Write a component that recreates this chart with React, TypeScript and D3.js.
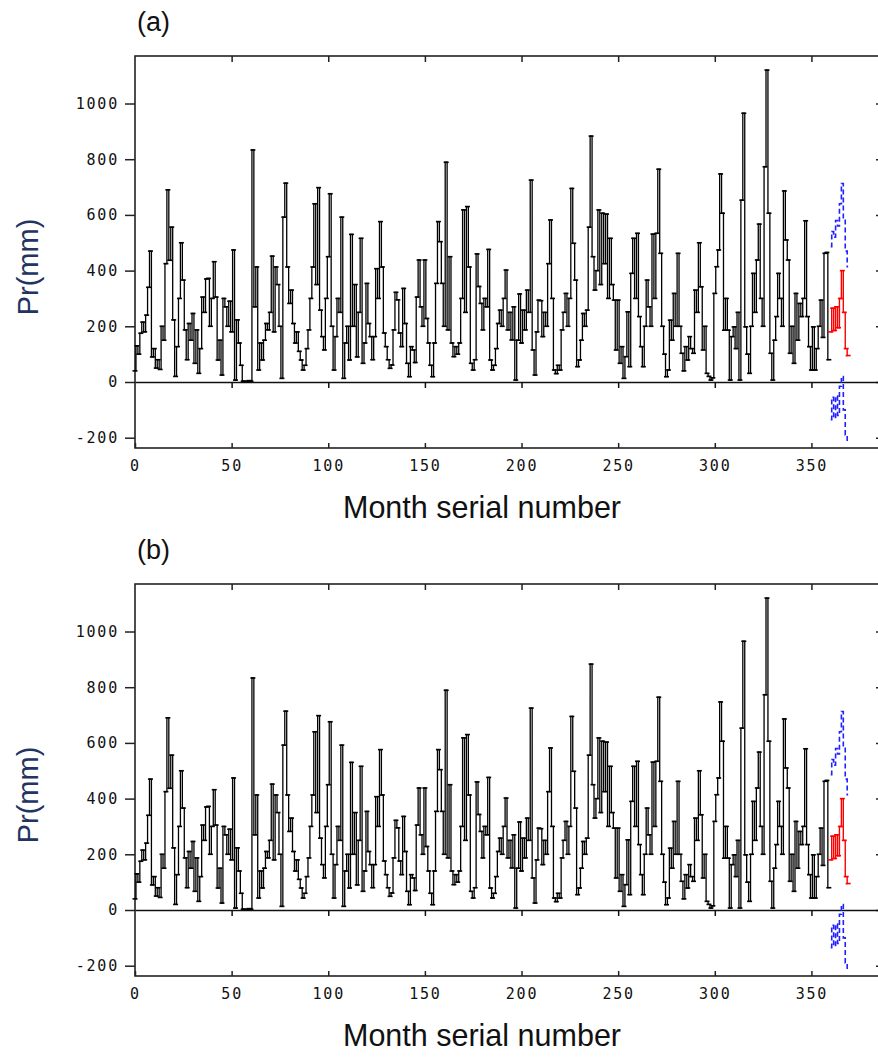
import React, { useEffect, useRef } from 'react';
import * as d3 from 'd3';

// monthly precipitation, months 0..359
const precip = [
  40, 130, 100, 175, 215, 180, 240, 340, 470, 90, 120, 50,
  80, 45, 200, 150, 425, 690, 437, 556, 223, 20, 127, 300,
  500, 366, 187, 80, 210, 150, 246, 67, 187, 31, 120, 305,
  250, 370, 372, 200, 300, 432, 305, 79, 150, 25, 300, 270,
  200, 290, 180, 474, 7, 223, 140, 60, 3, 2, 2, 5,
  3, 833, 270, 413, 43, 140, 79, 150, 210, 187, 250, 452,
  180, 413, 350, 200, 13, 592, 714, 413, 282, 330, 210, 140,
  180, 110, 79, 43, 60, 120, 187, 300, 413, 640, 350, 698,
  258, 163, 115, 300, 450, 676, 200, 43, 163, 300, 250, 592,
  13, 140, 200, 79, 530, 200, 350, 90, 250, 516, 67, 140,
  354, 210, 163, 80, 163, 407, 300, 576, 413, 176, 127, 80,
  49, 61, 187, 322, 295, 176, 127, 336, 210, 67, 19, 127,
  115, 70, 305, 438, 270, 200, 438, 228, 140, 60, 19, 140,
  354, 576, 504, 354, 200, 789, 187, 450, 140, 91, 127, 100,
  140, 300, 618, 250, 630, 413, 67, 43, 80, 460, 343, 282,
  187, 300, 270, 476, 79, 43, 60, 120, 210, 258, 200, 300,
  402, 187, 250, 151, 270, 7, 150, 316, 140, 258, 187, 330,
  250, 725, 115, 25, 180, 294, 292, 163, 250, 200, 425, 582,
  300, 43, 30, 60, 43, 187, 250, 318, 200, 300, 695, 498,
  366, 55, 79, 150, 246, 200, 258, 556, 883, 450, 330, 400,
  618, 350, 606, 425, 603, 300, 516, 350, 294, 115, 294, 67,
  127, 13, 91, 252, 55, 390, 516, 300, 534, 235, 127, 55,
  200, 366, 270, 200, 531, 300, 534, 764, 462, 200, 100, 19,
  43, 222, 150, 318, 200, 462, 200, 103, 40, 127, 79, 163,
  120, 103, 330, 250, 500, 342, 115, 200, 31, 20, 7, 15,
  318, 414, 474, 747, 606, 186, 300, 186, 7, 163, 198, 120,
  250, 7, 653, 965, 198, 100, 31, 200, 390, 250, 438, 567,
  300, 200, 773, 1120, 606, 103, 7, 150, 235, 390, 300, 200,
  686, 510, 438, 103, 200, 67, 318, 150, 282, 235, 300, 579,
  235, 127, 43, 198, 43, 120, 200, 294, 160, 462, 465, 80,
];

// forecast months 360..369 and its bounds
const forecastStart = 360;
const forecast = [180, 265, 185, 270, 195, 300, 400, 250, 120, 95];
const upperBound = [486, 540, 520, 580, 560, 640, 713, 590, 470, 414];
const lowerBound = [-135, -55, -130, -50, -120, -15, 20, -100, -190, -215];

const xTicks = [0, 50, 100, 150, 200, 250, 300, 350];
const yTicks = [-200, 0, 200, 400, 600, 800, 1000];
const panelLabels = ['(a)', '(b)'];

const App = () => {
  const svgRef = useRef<SVGSVGElement>(null);

  useEffect(() => {
    const svg = d3.select(svgRef.current);
    svg.selectAll('*').remove();

    const left = 135, right = 881, top = 56, bottom = 448;
    const x = d3.scaleLinear().domain([0, 386]).range([left, right]);
    const y = d3.scaleLinear().domain([-237, 1170.6]).range([bottom, top]);

    const tickFont = (g) => g
      .attr('font-family', '"DejaVu Sans Mono", monospace')
      .attr('font-size', 15)
      .attr('letter-spacing', 1.8);

    panelLabels.forEach((label, p) => {
      const g = svg.append('g').attr('transform', `translate(0,${p * 528})`);

      // frame
      g.append('rect')
        .attr('x', left).attr('y', top)
        .attr('width', right - left).attr('height', bottom - top)
        .attr('fill', 'none').attr('stroke', '#222').attr('stroke-width', 1.6);

      // left axis with labels
      const yAxis = g.append('g')
        .attr('transform', `translate(${left},0)`)
        .call(d3.axisLeft(y).tickValues(yTicks).tickSize(10).tickPadding(6)
          .tickFormat(d => String(d)));
      yAxis.select('.domain').remove();
      yAxis.selectAll('line').attr('stroke', '#222').attr('stroke-width', 1.5);
      yAxis.selectAll('text').attr('fill', '#111');
      tickFont(yAxis);

      // right axis, inward ticks
      const yRight = g.append('g')
        .attr('transform', `translate(${right},0)`)
        .call(d3.axisRight(y).tickValues(yTicks).tickSize(-5).tickFormat(() => ''));
      yRight.select('.domain').remove();
      yRight.selectAll('line').attr('stroke', '#222').attr('stroke-width', 1.5);

      // bottom axis: inward ticks + labels
      const xAxis = g.append('g')
        .attr('transform', `translate(0,${bottom})`)
        .call(d3.axisBottom(x).tickValues(xTicks).tickSize(-5).tickPadding(12)
          .tickFormat(d => String(d)));
      xAxis.select('.domain').remove();
      xAxis.selectAll('line').attr('stroke', '#222').attr('stroke-width', 1.5);
      xAxis.selectAll('text').attr('fill', '#111');
      tickFont(xAxis);

      // top axis, inward ticks
      const xTop = g.append('g')
        .attr('transform', `translate(0,${top})`)
        .call(d3.axisTop(x).tickValues(xTicks.slice(1)).tickSize(-6).tickFormat(() => ''));
      xTop.select('.domain').remove();
      xTop.selectAll('line').attr('stroke', '#222').attr('stroke-width', 1.5);

      // zero line with downward ticks
      const zero = g.append('g')
        .attr('transform', `translate(0,${y(0)})`)
        .call(d3.axisBottom(x).tickValues(xTicks.slice(1)).tickSize(6).tickSizeOuter(0)
          .tickFormat(() => ''));
      zero.select('.domain').attr('stroke', '#111').attr('stroke-width', 1.6);
      zero.selectAll('line').attr('stroke', '#111').attr('stroke-width', 1.5);

      // observed series (low-res look: vertical steps between months)
      const line = d3.line<number>().x((d, i) => x(i)).y(d => y(d)).curve(d3.curveStep);
      g.append('path')
        .datum(precip)
        .attr('d', line)
        .attr('fill', 'none').attr('stroke', '#000').attr('stroke-width', 1.3);
      g.append('g').selectAll('path')
        .data(precip)
        .enter().append('path')
        .attr('d', (d, i) => `M${x(i) - 2.5},${y(d)}h5`)
        .attr('stroke', '#000').attr('stroke-width', 1.6);

      // forecast bounds
      const fLine = d3.line<number>().x((d, i) => x(forecastStart + i)).y(d => y(d)).curve(d3.curveStep);
      [upperBound, lowerBound].forEach(b => {
        g.append('path')
          .datum(b)
          .attr('d', fLine)
          .attr('fill', 'none').attr('stroke', '#2020ff')
          .attr('stroke-width', 1.6).attr('stroke-dasharray', '5,3');
      });

      // forecast
      g.append('path')
        .datum(forecast)
        .attr('d', fLine)
        .attr('fill', 'none').attr('stroke', '#ff0000').attr('stroke-width', 1.4);
      g.append('g').selectAll('path')
        .data(forecast)
        .enter().append('path')
        .attr('d', (d, i) => `M${x(forecastStart + i) - 2.5},${y(d)}h5`)
        .attr('stroke', '#ff0000').attr('stroke-width', 1.6);

      // titles
      g.append('text')
        .attr('x', 137).attr('y', 31)
        .attr('font-family', '"Liberation Sans", Arial, sans-serif')
        .attr('font-size', 27).attr('fill', '#111')
        .text(label);

      g.append('text')
        .attr('x', 482).attr('y', 518)
        .attr('text-anchor', 'middle')
        .attr('font-family', '"Liberation Sans", Arial, sans-serif')
        .attr('font-size', 30.5).attr('fill', '#111')
        .text('Month serial number');

      g.append('text')
        .attr('transform', `translate(38,${(top + bottom) / 2 + 15}) rotate(-90)`)
        .attr('text-anchor', 'middle')
        .attr('font-family', '"Liberation Sans", Arial, sans-serif')
        .attr('font-size', 29).attr('fill', '#22355f')
        .text('Pr(mm)');
    });
  }, []);

  return (
    <div style={{ position: 'absolute', left: 0, top: 0 }}>
      <svg ref={svgRef} width={878} height={1059} style={{ display: 'block', background: '#fff' }}></svg>
    </div>
  );
};

export default App;
